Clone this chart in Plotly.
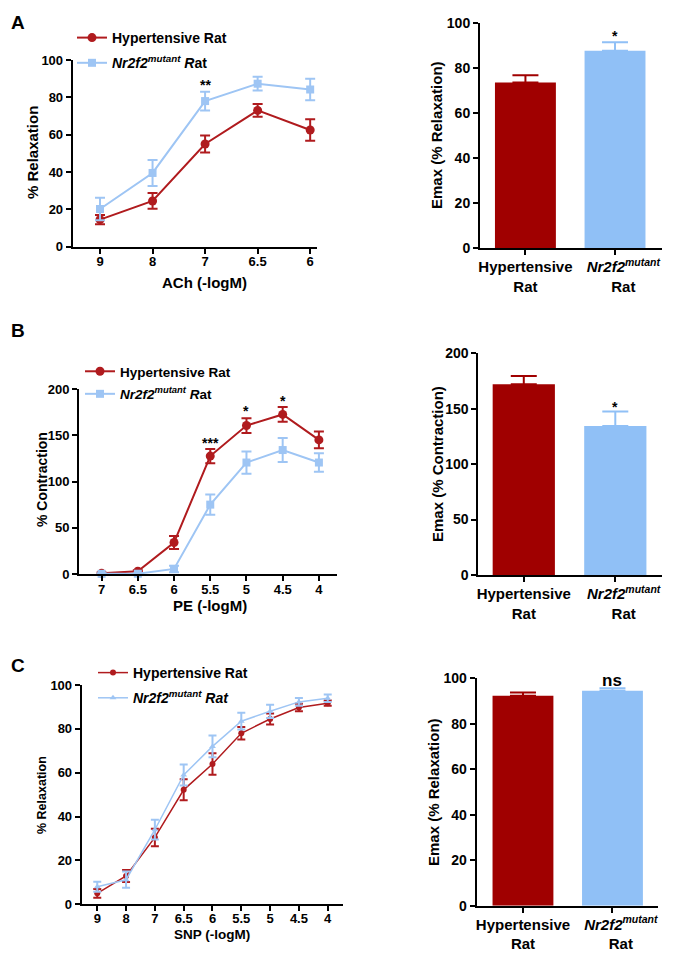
import plotly.graph_objects as go

# ---------------- data ----------------
ach_labels = ["9", "8", "7", "6.5", "6"]
ach_hyp = [14.5, 24.5, 55.0, 73.0, 62.5]
ach_hyp_err = [2.5, 4.2, 4.5, 3.4, 5.7]
ach_mut = [20.2, 39.5, 78.0, 87.3, 84.2]
ach_mut_err = [6.0, 7.0, 5.0, 3.7, 5.8]

pe_labels = ["7", "6.5", "6", "5.5", "5", "4.5", "4"]
pe_hyp = [0.7, 3.0, 34.0, 127.5, 160.5, 172.5, 145.0]
pe_hyp_err = [0.8, 1.0, 7.0, 7.7, 8.0, 8.0, 9.0]
pe_mut = [0.2, 0.3, 5.5, 75.0, 120.5, 134.0, 120.5]
pe_mut_err = [0.5, 0.5, 3.5, 11.0, 12.0, 13.0, 10.0]

snp_labels = ["9", "8", "7", "6.5", "6", "5.5", "5", "4.5", "4"]
snp_hyp = [5.0, 12.9, 30.5, 52.2, 64.0, 78.0, 84.5, 89.7, 91.7]
snp_hyp_err = [2.0, 2.7, 4.0, 4.8, 4.9, 2.9, 2.5, 1.7, 1.2]
snp_mut = [8.0, 11.2, 34.0, 59.0, 72.0, 83.5, 88.0, 92.3, 94.0]
snp_mut_err = [2.3, 3.7, 4.5, 4.8, 5.0, 3.8, 3.0, 1.8, 1.7]

bar_groups = ["Hypertensive Rat", "Nr2f2 mutant Rat"]
bar_ticktext = ["Hypertensive<br>Rat",
                "&nbsp;&nbsp;&nbsp;&nbsp;<i>Nr2f2<sup>mutant</sup></i><br>&nbsp;&nbsp;&nbsp;&nbsp;Rat"]
ach_emax = [73.5, 87.6]
ach_emax_err = [3.2, 3.7]
pe_emax = [172.0, 134.5]
pe_emax_err = [7.5, 13.0]
snp_emax = [92.3, 94.5]
snp_emax_err = [1.5, 1.1]

name_hyp = "Hypertensive Rat"
name_mut_ab = "<i>Nr2f2<sup>mutant</sup> R</i>at"
name_mut_c = "<i>Nr2f2<sup>mutant</sup> Rat</i>"

# significance marks: (category, y value, text)
ach_sig = [("7", 86.5, "**")]
ach_emax_sig = [(bar_groups[1], 94.0, "*")]
pe_sig = [("5.5", 142.0, "***"), ("5", 176.0, "*"), ("4.5", 187.0, "*")]
pe_emax_sig = [(bar_groups[1], 152.0, "*")]
snp_emax_sig = [(bar_groups[1], 99.0, "ns")]

# ---------------- style ----------------
FONT = "Arial, 'Liberation Sans', sans-serif"
RED_LINE = "#B01B1E"
BLUE_LINE = "#9EC5F4"
RED_BAR = "#A00000"
BLUE_BAR = "#90C0F6"
W, H = 677, 958

fig = go.Figure()


def curve(xl, y, err, name, color, symbol, msize, lw, xa, ya, legend, group, errw):
    fig.add_trace(go.Scatter(
        x=xl, y=y, name=name, mode="lines+markers",
        error_y=dict(type="data", array=err, color=color, thickness=2, width=errw),
        line=dict(color=color, width=lw),
        marker=dict(symbol=symbol, size=msize, color=color),
        xaxis=xa, yaxis=ya, legend=legend, legendgroup=group, cliponaxis=False))


def bars(vals, errs, xa, ya):
    for lab, v, e, c in zip(bar_groups, vals, errs, [RED_BAR, BLUE_BAR]):
        fig.add_trace(go.Bar(
            x=[lab], y=[v], marker=dict(color=c, line=dict(width=0)),
            error_y=dict(type="data", symmetric=False, array=[e], arrayminus=[0],
                         color=c, thickness=2, width=13),
            showlegend=False, xaxis=xa, yaxis=ya))


# Panel A
curve(ach_labels, ach_hyp, ach_hyp_err, name_hyp, RED_LINE, "circle", 9, 2, "x", "y", "legend", "a1", 5)
curve(ach_labels, ach_mut, ach_mut_err, name_mut_ab, BLUE_LINE, "square", 8, 2, "x", "y", "legend", "a2", 5)
bars(ach_emax, ach_emax_err, "x2", "y2")
# Panel B
curve(pe_labels, pe_hyp, pe_hyp_err, name_hyp, RED_LINE, "circle", 9, 2, "x3", "y3", "legend2", "b1", 5)
curve(pe_labels, pe_mut, pe_mut_err, name_mut_ab, BLUE_LINE, "square", 8, 2, "x3", "y3", "legend2", "b2", 5)
bars(pe_emax, pe_emax_err, "x4", "y4")
# Panel C
curve(snp_labels, snp_hyp, snp_hyp_err, name_hyp, RED_LINE, "circle", 6, 1.5, "x5", "y5", "legend3", "c1", 4)
curve(snp_labels, snp_mut, snp_mut_err, name_mut_c, BLUE_LINE, "triangle-up", 6, 1.5, "x5", "y5", "legend3", "c2", 4)
bars(snp_emax, snp_emax_err, "x6", "y6")


def px_x(a, b):
    return [a / W, b / W]


def px_y(top, bottom):
    return [1 - bottom / H, 1 - top / H]


def xaxis(dom, rng, anchor, size=13, standoff=-3, bar=False):
    d = dict(domain=dom, range=rng, anchor=anchor, type="category", automargin=False,
             showline=True, linecolor="black", linewidth=2, ticks="outside",
             ticklen=5, tickwidth=2, tickcolor="black", showgrid=False,
             ticklabelstandoff=standoff, tickangle=0,
             zeroline=False, tickfont=dict(family=FONT, size=size, color="black", weight=700))
    if bar:
        d.update(tickmode="array", tickvals=bar_groups, ticktext=bar_ticktext)
    return d


def yaxis(dom, rng, dtick, anchor, size=13):
    return dict(domain=dom, range=rng, dtick=dtick, anchor=anchor, automargin=False,
                showline=True, linecolor="black", linewidth=2, ticks="outside",
                ticklen=5, tickwidth=2, tickcolor="black", showgrid=False,
                zeroline=False, tickfont=dict(family=FONT, size=size, color="black", weight=700))


def legend(x_px, y_px, size, gap):
    return dict(x=x_px / W, y=1 - y_px / H, xanchor="left", yanchor="top",
                bgcolor="rgba(0,0,0,0)", traceorder="grouped", tracegroupgap=gap,
                font=dict(family=FONT, size=size, color="black", weight=700))


annotations = []


def text(x_px, y_px, t, size, angle=0, weight=700):
    annotations.append(dict(x=x_px / W, y=1 - y_px / H, xref="paper", yref="paper",
                            text=t, showarrow=False, textangle=angle,
                            xanchor="center", yanchor="middle",
                            font=dict(family=FONT, size=size, color="black", weight=weight)))


def sig(xa, ya, cats, marks, size=14):
    for cat, y, t in marks:
        annotations.append(dict(x=cats.index(cat), y=y, xref=xa, yref=ya, text=t,
                                showarrow=False, xanchor="center", yanchor="middle",
                                font=dict(family=FONT, size=size, color="black", weight=700)))


# panel letters
text(18, 22, "A", 19)
text(18, 330, "B", 19)
text(18, 665, "C", 19)

# axis titles
text(32, 153, "% Relaxation", 15, -90)
text(205, 282, "ACh (-logM)", 15)
text(437, 135, "Emax (% Relaxation)", 15, -90)
text(42, 480, "% Contraction", 14, -90)
text(210, 605, "PE (-logM)", 15)
text(437, 464, "Emax (% Contraction)", 15, -90)
text(42, 795, "% Relaxation", 12.5, -90)
text(212, 934, "SNP (-logM)", 13.5)
text(433, 792, "Emax (% Relaxation)", 15, -90)

# significance marks
sig("x", "y", ach_labels, ach_sig)
sig("x2", "y2", bar_groups, ach_emax_sig)
sig("x3", "y3", pe_labels, pe_sig)
sig("x4", "y4", bar_groups, pe_emax_sig)
sig("x6", "y6", bar_groups, snp_emax_sig, 17)

fig.update_layout(
    width=W, height=H, margin=dict(l=0, r=0, t=0, b=0, pad=0, autoexpand=False),
    paper_bgcolor="white", plot_bgcolor="white",
    barmode="overlay", showlegend=True,
    font=dict(family=FONT, color="black"),
    xaxis=xaxis(px_x(72.7, 317), [-0.52, 4.13], "y"),
    yaxis=yaxis(px_y(60, 246.7), [0, 100], 20, "x"),
    xaxis2=xaxis(px_x(480, 661.7), [-0.507, 1.521], "y2", 15, -1, True),
    yaxis2=yaxis(px_y(22.7, 248.3), [0, 100], 20, "x2", 14),
    xaxis3=xaxis(px_x(79, 337.3), [-0.624, 6.508], "y3"),
    yaxis3=yaxis(px_y(389, 574), [0, 200], 50, "x3"),
    xaxis4=xaxis(px_x(478.3, 661.7), [-0.497, 1.507], "y4", 15, -1, True),
    yaxis4=yaxis(px_y(353.3, 575), [0, 200], 50, "x4", 14),
    xaxis5=xaxis(px_x(81.7, 342.7), [-0.54, 8.52], "y5", 13, -4),
    yaxis5=yaxis(px_y(685, 904.3), [0, 100], 20, "x5"),
    xaxis6=xaxis(px_x(476.7, 658.3), [-0.517, 1.512], "y6", 15, -1, True),
    yaxis6=yaxis(px_y(678.3, 905.7), [0, 100], 20, "x6", 14),
    legend=legend(72, 22, 14, 4),
    legend2=legend(80, 356, 13.5, 2),
    legend3=legend(93, 657, 14, 4),
    annotations=annotations,
)
fig.update_traces(selector=dict(type="bar"), width=0.68)

fig.write_html(
    "out.html",
    config={"displayModeBar": False},
    post_script="document.body.style.margin='0px';document.body.style.overflow='hidden';",
)
